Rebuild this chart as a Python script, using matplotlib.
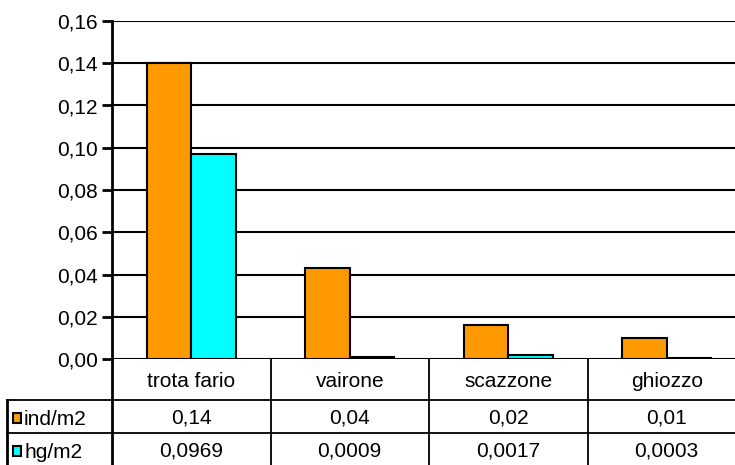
import matplotlib
matplotlib.use("Agg")
import matplotlib.pyplot as plt
from matplotlib.transforms import blended_transform_factory
from matplotlib.patches import Rectangle
import numpy as np

categories = ["trota fario", "vairone", "scazzone", "ghiozzo"]
series_names = ["ind/m2", "hg/m2"]
ind_m2 = [0.14, 0.043, 0.016, 0.01]
hg_m2 = [0.0969, 0.0009, 0.0017, 0.0003]
ind_labels = ["0,14", "0,04", "0,02", "0,01"]
hg_labels = ["0,0969", "0,0009", "0,0017", "0,0003"]
yticks = [0.00, 0.02, 0.04, 0.06, 0.08, 0.10, 0.12, 0.14, 0.16]
colors = ["#FF9900", "#00FFFF"]

plt.rcParams['font.family'] = ['Liberation Sans', 'DejaVu Sans']
FS = 15

W, H = 735, 465
fig = plt.figure(figsize=(W / 100, H / 100), dpi=100)

def fx(px):
    return px / W

def fy(py):
    return 1 - py / H

left, right, top, bottom = 112, 746, 21, 359
ax = fig.add_axes([fx(left), fy(bottom), fx(right - left), fy(top) - fy(bottom)])

x = np.arange(len(categories))
bw = 0.28
ax.bar(x - bw / 2, ind_m2, bw, color=colors[0], edgecolor="black", linewidth=1.5, zorder=3)
ax.bar(x + bw / 2, hg_m2, bw, color=colors[1], edgecolor="black", linewidth=1.5, zorder=3)

ax.set_xlim(-0.5, len(categories) - 0.5)
ax.set_ylim(0, 0.16)
ax.set_yticks(yticks)
ax.set_yticklabels([f"{v:.2f}".replace(".", ",") for v in yticks], fontsize=FS)
ax.set_xticks([])
ax.yaxis.grid(True, color="black", linewidth=1.5, zorder=0)
ax.tick_params(axis="y", direction="out", length=7, width=2, pad=3)
for s in ["top", "right", "bottom"]:
    ax.spines[s].set_visible(False)
ax.spines["left"].set_linewidth(2)
ax.axhline(0, color="black", linewidth=2, zorder=4)

# data table below the axes
tr = blended_transform_factory(ax.transData, fig.transFigure)
row_h = [359, 400, 433, 470]
bounds = np.arange(len(categories) + 1) - 0.5
lw = 1.3
for b in bounds:
    ax.add_line(plt.Line2D([b, b], [fy(row_h[0]), fy(row_h[3])], transform=tr,
                           color="black", linewidth=2 if b == bounds[0] else lw, clip_on=False))
for yy in row_h[1:3]:
    fig.add_artist(plt.Line2D([fx(7), 1], [fy(yy), fy(yy)], color="black", linewidth=lw))
fig.add_artist(plt.Line2D([fx(7), fx(7)], [fy(400), fy(470)], color="black", linewidth=2))

for i, c in enumerate(categories):
    ax.text(i, fy(381), c, transform=tr, ha="center", va="center", fontsize=FS)
    ax.text(i, fy(418), ind_labels[i], transform=tr, ha="center", va="center", fontsize=FS)
    ax.text(i, fy(451), hg_labels[i], transform=tr, ha="center", va="center", fontsize=FS)

for name, col, yc in [(series_names[0], colors[0], 418), (series_names[1], colors[1], 451)]:
    fig.add_artist(Rectangle((fx(13), fy(yc + 5)), fx(8), fy(yc - 5) - fy(yc + 5),
                             facecolor=col, edgecolor="black", linewidth=1.5))
    fig.text(fx(24), fy(yc + 1), name, ha="left", va="center", fontsize=FS)

fig.savefig("out.png", dpi=100)
